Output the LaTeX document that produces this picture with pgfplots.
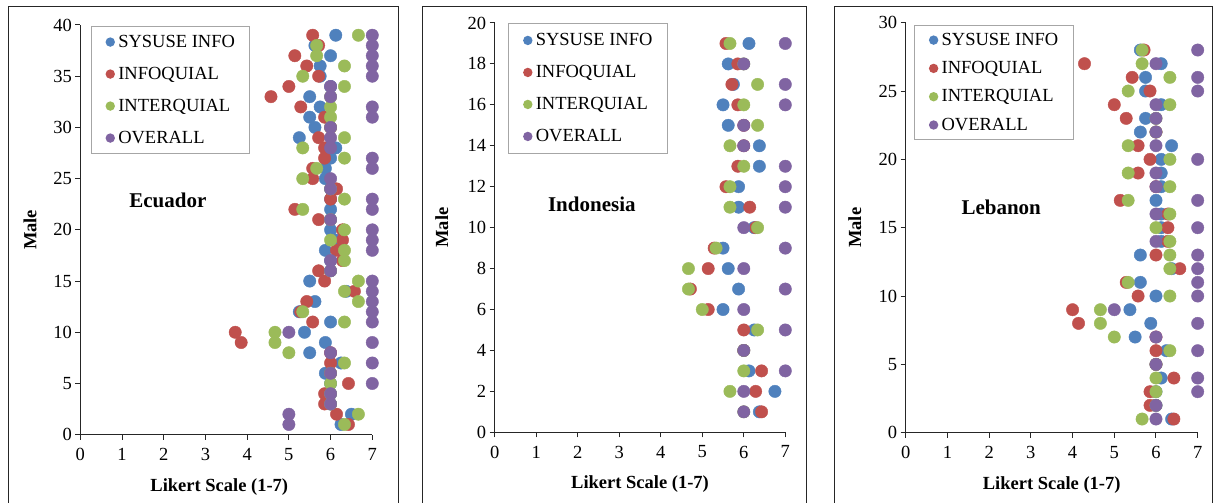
\documentclass[border=0pt]{standalone}
\usepackage{pgfplots}
\pgfplotsset{compat=1.18}
\usepackage{pgfplotstable}
\usepackage{fontspec}
\setmainfont{Liberation Serif}

\definecolor{cBlue}{HTML}{4F81BD}
\definecolor{cRed}{HTML}{C0504D}
\definecolor{cGreen}{HTML}{9BBB59}
\definecolor{cPurple}{HTML}{8064A2}

% y  sys  info  inter  overall
\pgfplotstableread{
y sys info inter overall
39 6.125 5.571 6.667 7
38 5.625 5.714 5.667 7
37 6.0 5.143 5.667 7
36 5.75 5.429 6.333 7
35 5.75 5.714 5.333 7
34 6.0 5.0 6.333 6
33 5.5 4.571 6.0 6
32 5.75 5.286 6.0 7
31 5.5 5.857 6.0 7
30 5.625 6.0 6.0 6
29 5.25 5.714 6.333 6
28 6.125 5.857 5.333 6
27 6.0 5.857 6.333 7
26 5.875 5.571 5.667 7
25 5.875 5.571 5.333 6
24 6.0 6.143 6.0 6
23 6.0 6.0 6.333 7
22 6.0 5.143 5.333 7
21 6.0 5.714 6.0 6
20 6.0 6.286 6.333 7
19 6.125 6.286 6.0 7
18 5.875 6.143 6.333 7
17 6.0 6.286 6.333 6
16 6.0 5.714 6.0 6
15 5.5 5.857 6.667 7
14 6.375 6.571 6.333 7
13 5.625 5.429 6.667 7
12 5.25 5.286 5.333 7
11 6.0 5.571 6.333 7
10 5.375 3.714 4.667 5
9 5.875 3.857 4.667 7
8 5.5 6.0 5.0 6
7 6.25 6.0 6.333 7
6 5.875 6.0 6.0 6
5 6.0 6.429 6.0 7
4 6.0 5.857 6.0 6
3 6.0 5.857 6.0 6
2 6.5 6.143 6.667 5
1 6.25 6.429 6.333 5
}\ecuador

\pgfplotstableread{
y sys info inter overall
19 6.125 5.571 5.667 7
18 5.625 5.857 6.0 6
17 5.75 5.714 6.333 7
16 5.5 5.857 6.0 7
15 5.625 6.0 6.333 6
14 6.375 6.0 5.667 6
13 6.375 5.857 6.0 7
12 5.875 5.571 5.667 7
11 5.875 6.143 5.667 7
10 6.25 6.286 6.333 6
9 5.5 5.286 5.333 7
8 5.625 5.143 4.667 6
7 5.875 4.714 4.667 7
6 5.5 5.143 5.0 6
5 6.25 6.0 6.333 7
4 6.0 6.0 6.0 6
3 6.125 6.429 6.0 7
2 6.75 6.286 5.667 6
1 6.375 6.429 6.0 6
}\indonesia

\pgfplotstableread{
y sys info inter overall
28 5.625 5.714 5.667 7
27 6.125 4.286 5.667 6
26 5.75 5.429 6.333 7
25 5.75 5.857 5.333 7
24 6.125 5.0 6.333 6
23 5.75 5.286 6.0 6
22 5.625 6.0 6.0 6
21 6.375 5.571 5.333 6
20 6.125 5.857 6.333 7
19 6.125 5.571 5.333 6
18 6.125 6.0 6.333 6
17 6.0 5.143 5.333 7
16 6.125 6.286 6.333 6
15 6.125 6.286 6.0 7
14 6.125 6.286 6.333 6
13 5.625 6.0 6.333 7
12 6.375 6.571 6.333 7
11 5.625 5.286 5.333 7
10 6.0 5.571 6.333 7
9 5.375 4.0 4.667 5
8 5.875 4.143 4.667 7
7 5.5 6.0 5.0 6
6 6.25 6.0 6.333 7
5 6.0 6.0 6.0 6
4 6.125 6.429 6.0 7
3 6.0 5.857 6.0 7
2 6.0 5.857 6.0 6
1 6.375 6.429 5.667 6
}\lebanon

\pgfplotsset{
  panel/.style={
    scale only axis, anchor=south west,
    xmin=0, xmax=7, ymin=0,
    axis lines=left,
    axis line style={-, line width=1pt, black!85},
    xtick={0,...,7},
    tick align=outside, major tick length=5pt,
    tick style={line width=1pt, black!85},
    /pgf/number format/assume math mode=true,
    tick label style={font=\fontsize{18.5}{18.5}\selectfont},
    xticklabel style={yshift=-5pt},
    xlabel={Likert Scale (1-7)}, ylabel={Male},
    label style={font=\bfseries\fontsize{18.5}{18.5}\selectfont},
    clip=false,
    legend cell align=left,
    legend image code/.code={\path[draw=none,fill=none] (0pt,-4.7pt) rectangle (11pt,4.7pt); \fill[##1, draw=none] (6pt,0pt) circle (4.7pt);},
    legend style={draw=black!35, line width=0.9pt, fill=white, anchor=north west,
      font=\fontsize{18.5}{18.5}\selectfont, inner xsep=13pt, column sep=1pt,
      nodes={inner sep=2pt, text height=13pt, text depth=3pt}},
  },
  s1/.style={only marks, mark=*, mark size=6.2pt, color=cBlue, mark options={draw=none, fill=cBlue}},
  s2/.style={only marks, mark=*, mark size=6.2pt, color=cRed, mark options={draw=none, fill=cRed}},
  s3/.style={only marks, mark=*, mark size=6.2pt, color=cGreen, mark options={draw=none, fill=cGreen}},
  s4/.style={only marks, mark=*, mark size=6.2pt, color=cPurple, mark options={draw=none, fill=cPurple}},
}

\begin{document}
\begin{tikzpicture}
\path[use as bounding box] (0pt,0pt) rectangle (1215pt,503pt);
% panel frames
\draw[black!85, line width=0.9pt] (8pt,-5pt) -- (8pt,497pt) -- (398pt,497pt) -- (398pt,-5pt);
\draw[black!85, line width=0.9pt] (422pt,-5pt) -- (422pt,497pt) -- (806pt,497pt) -- (806pt,-5pt);
\draw[black!85, line width=0.9pt] (834pt,-5pt) -- (834pt,497pt) -- (1212pt,497pt) -- (1212pt,-5pt);

% Ecuador
\begin{axis}[panel, at={(80.3pt,68.3pt)}, width=292pt, height=409.7pt,
  ymax=40, ytick={0,5,...,40},
  xlabel style={at={(axis description cs:0.476,-0.127)}, anchor=center},
  ylabel style={at={(axis description cs:-0.172,0.5)}, anchor=center, rotate=0},
  legend style={at={(rel axis cs:0.036,0.998)}, row sep=12pt, inner ysep=5.8pt}]
\addplot[s1] table[x=sys,y=y] {\ecuador};
\addplot[s2] table[x=info,y=y] {\ecuador};
\addplot[s3] table[x=inter,y=y] {\ecuador};
\addplot[s4] table[x=overall,y=y] {\ecuador};
\legend{SYSUSE INFO, INFOQUIAL, INTERQUIAL, OVERALL}
\node[font=\bfseries\fontsize{21}{21}\selectfont] at (axis cs:2.1,22.9) {Ecuador};
\end{axis}

% Indonesia
\begin{axis}[panel, at={(494.7pt,70.7pt)}, width=290.6pt, height=409.3pt,
  ymax=20, ytick={0,2,...,20},
  xlabel style={at={(axis description cs:0.5,-0.127)}, anchor=center},
  ylabel style={at={(axis description cs:-0.182,0.5)}, anchor=center, rotate=0},
  legend style={at={(rel axis cs:0.047,1.0)}, row sep=12pt, inner ysep=7pt}]
\addplot[s1] table[x=sys,y=y] {\indonesia};
\addplot[s2] table[x=info,y=y] {\indonesia};
\addplot[s3] table[x=inter,y=y] {\indonesia};
\addplot[s4] table[x=overall,y=y] {\indonesia};
\legend{SYSUSE INFO, INFOQUIAL, INTERQUIAL, OVERALL}
\node[font=\bfseries\fontsize{21}{21}\selectfont] at (axis cs:2.34,11.15) {Indonesia};
\end{axis}

% Lebanon
\begin{axis}[panel, at={(905.7pt,70.3pt)}, width=292pt, height=410pt,
  ymax=30, ytick={0,5,...,30},
  xlabel style={at={(axis description cs:0.5,-0.127)}, anchor=center},
  ylabel style={at={(axis description cs:-0.174,0.5)}, anchor=center, rotate=0},
  legend style={at={(rel axis cs:0.029,0.994)}, row sep=8.3pt, inner ysep=4.5pt}]
\addplot[s1] table[x=sys,y=y] {\lebanon};
\addplot[s2] table[x=info,y=y] {\lebanon};
\addplot[s3] table[x=inter,y=y] {\lebanon};
\addplot[s4] table[x=overall,y=y] {\lebanon};
\legend{SYSUSE INFO, INFOQUIAL, INTERQUIAL, OVERALL}
\node[font=\bfseries\fontsize{21}{21}\selectfont] at (axis cs:2.29,16.5) {Lebanon};
\end{axis}
\end{tikzpicture}
\end{document}
